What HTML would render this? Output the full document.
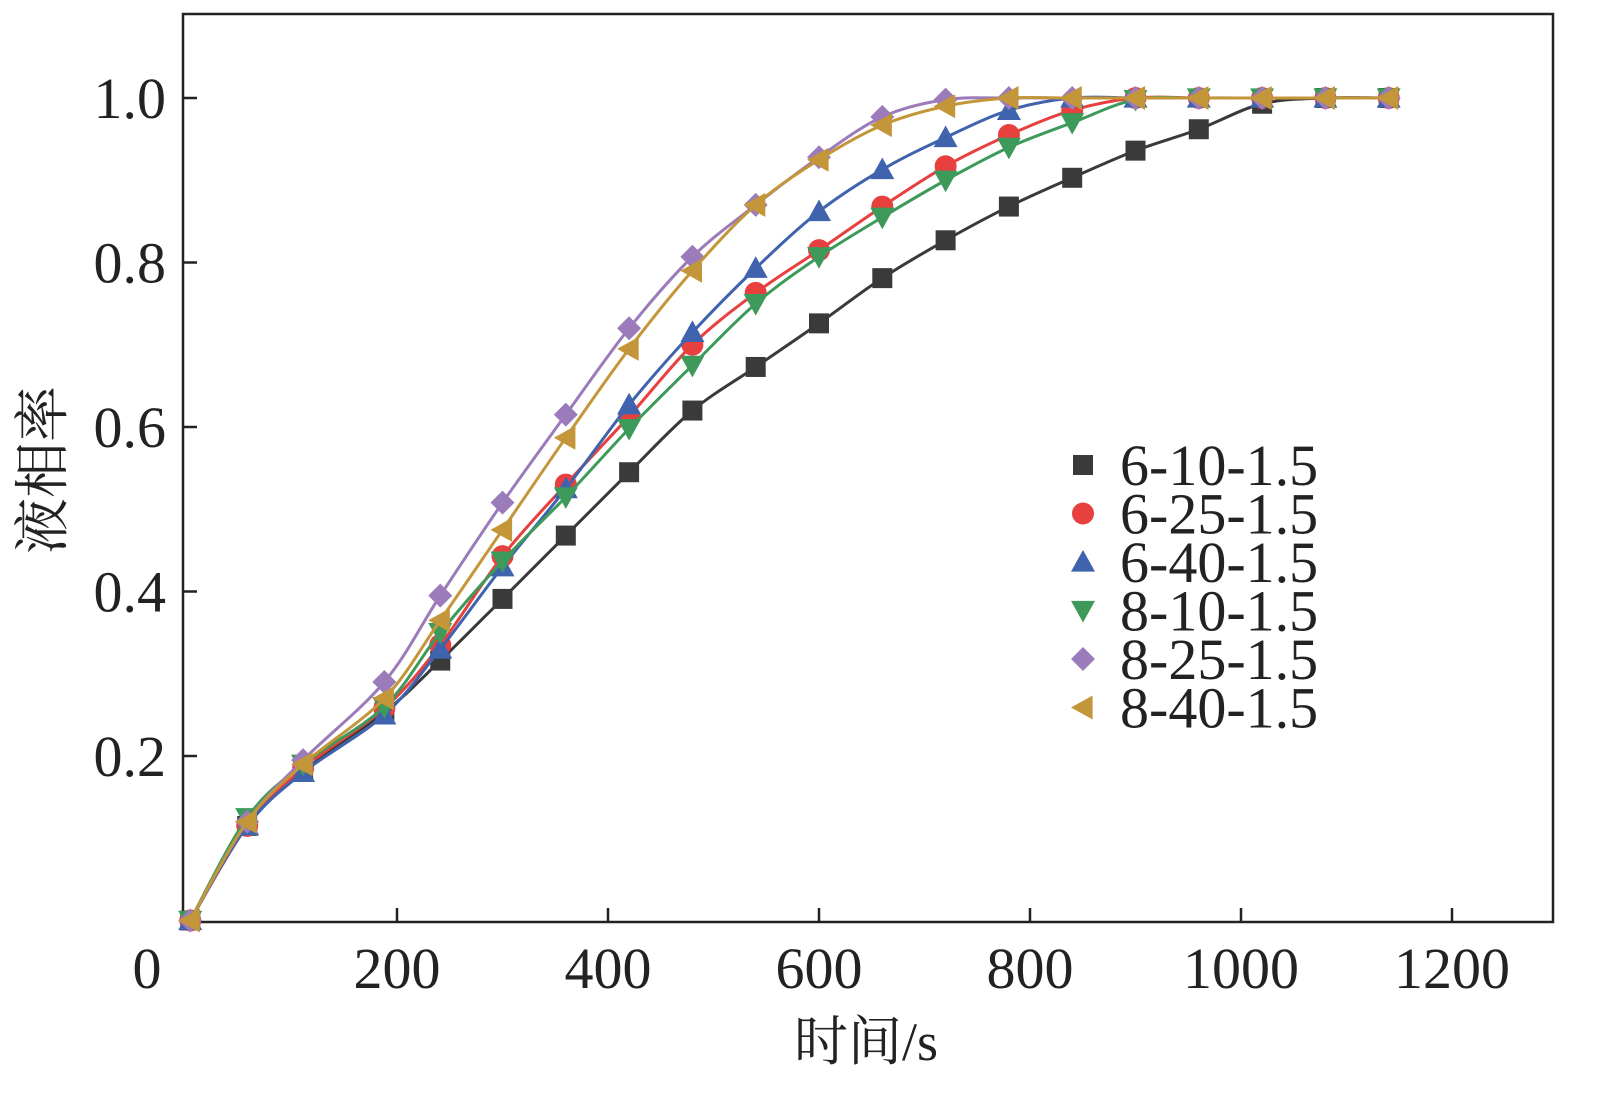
<!DOCTYPE html>
<html><head><meta charset="utf-8"><style>
body{margin:0;background:#fff}
svg text{font-family:"Liberation Serif","Noto Serif CJK SC",serif;fill:#222}
</style></head><body>
<svg id="chart" width="1616" height="1111" viewBox="0 0 1616 1111"></svg>
<script>
const times=[4,58,111,188,241,300,360,420,480,540,600,660,720,780,840,900,960,1020,1080,1140];
const seriesNames=["6-10-1.5","6-25-1.5","6-40-1.5","8-10-1.5","8-25-1.5","8-40-1.5"];
const s1=[0,.115,.183,.253,.316,.391,.468,.545,.62,.673,.726,.781,.827,.868,.903,.936,.962,.993,1,1];
const s2=[0,.115,.185,.258,.335,.443,.53,.613,.70,.763,.815,.868,.917,.955,.985,1,1,1,1,1];
const s3=[0,.115,.18,.25,.33,.43,.525,.627,.715,.793,.862,.913,.952,.985,1,1,1,1,1,1];
const s4=[0,.125,.19,.26,.35,.437,.515,.598,.675,.75,.807,.855,.9,.94,.97,.998,1,1,1,1];
const s5=[0,.12,.195,.29,.395,.508,.615,.72,.807,.87,.928,.977,.998,1,1,1,1,1,1,1];
const s6=[0,.12,.19,.27,.365,.475,.587,.695,.79,.87,.925,.967,.99,1,1,1,1,1,1,1];
const xTicks=[0,200,400,600,800,1000,1200];
const yTicks=[0.2,0.4,0.6,0.8,1.0];
const allSeries=[s1,s2,s3,s4,s5,s6];
const colors=["#3a3a3a","#e8403f","#3f63ad","#3e9a5a","#9c7bba","#c4963a"];
const shapes=["square","circle","up","down","diamond","left"];
const X=v=>186+v*1.055, Y=v=>920.5-v*822.5;
const svg=document.getElementById('chart');const NS="http://www.w3.org/2000/svg";
function mk(t,a,p){const e=document.createElementNS(NS,t);for(const k in a)e.setAttribute(k,a[k]);(p||svg).appendChild(e);return e;}
const frame=mk('rect',{x:183,y:14,width:1370,height:908,fill:'none',stroke:'#222','stroke-width':2.5});


xTicks.forEach(t=>{
 if(t>0){const l=mk('line',{x1:X(t),x2:X(t),y1:922,y2:908,stroke:'#222','stroke-width':2.5});
 
 }
 const tx=mk('text',{x:t===0?147:X(t),y:988,'font-size':58,'text-anchor':'middle'});tx.textContent=t;
 
 
});
yTicks.forEach(t=>{
 const l=mk('line',{x1:183,x2:197,y1:Y(t),y2:Y(t),stroke:'#222','stroke-width':2.5});
 
 
 const tx=mk('text',{x:166,y:Y(t)+20,'font-size':58,'text-anchor':'end'});tx.textContent=t.toFixed(1);
 
 
});
const xt=mk('text',{x:866,y:1060,'font-size':54,'text-anchor':'middle'});xt.textContent='时间/s';


const yt=mk('text',{x:0,y:0,'font-size':56,'text-anchor':'middle',transform:'translate(62,470) rotate(-90)'});yt.textContent='液相率';


function marker(shape,x,y,c,g){const r=12;let e;
 if(shape==='square')e=mk('rect',{x:x-10,y:y-10,width:20,height:20,fill:c},g);
 else if(shape==='circle')e=mk('circle',{cx:x,cy:y,r:11,fill:c},g);
 else{let p;
  if(shape==='up')p=[[x,y-r],[x+r,y+r*0.8],[x-r,y+r*0.8]];
  else if(shape==='down')p=[[x,y+r],[x+r,y-r*0.8],[x-r,y-r*0.8]];
  else if(shape==='diamond')p=[[x,y-r],[x+r,y],[x,y+r],[x-r,y]];
  else p=[[x-r,y],[x+r*0.8,y-r],[x+r*0.8,y+r]];
  e=mk('polygon',{points:p.map(q=>q.join(',')).join(' '),fill:c},g);}
 return e;}
function smooth(pts){let d='M'+pts[0][0]+','+pts[0][1];
 for(let i=0;i<pts.length-1;i++){const p0=pts[Math.max(0,i-1)],p1=pts[i],p2=pts[i+1],p3=pts[Math.min(pts.length-1,i+2)];
  const c1=[p1[0]+(p2[0]-p0[0])/6,p1[1]+(p2[1]-p0[1])/6],c2=[p2[0]-(p3[0]-p1[0])/6,p2[1]-(p3[1]-p1[1])/6];
  d+=' C'+c1.join(',')+' '+c2.join(',')+' '+p2.join(',');}
 return d;}
allSeries.forEach((s,i)=>{
 const g=mk('g',{});
 
 
 const pl=mk('path',{d:smooth(s.map((v,j)=>[X(times[j]),Y(v)])),fill:'none',stroke:colors[i],'stroke-width':3},g);
 
 
 s.forEach((v,j)=>{const m=marker(shapes[i],X(times[j]),Y(v),colors[i],g);
  
  });
 const ly=465+i*48.5;
 const lm=marker(shapes[i],1083,ly,colors[i]);
 
 
 const lt=mk('text',{x:1120,y:ly+20,'font-size':58});lt.textContent=seriesNames[i];
 
 
});
</script>
</body></html>
